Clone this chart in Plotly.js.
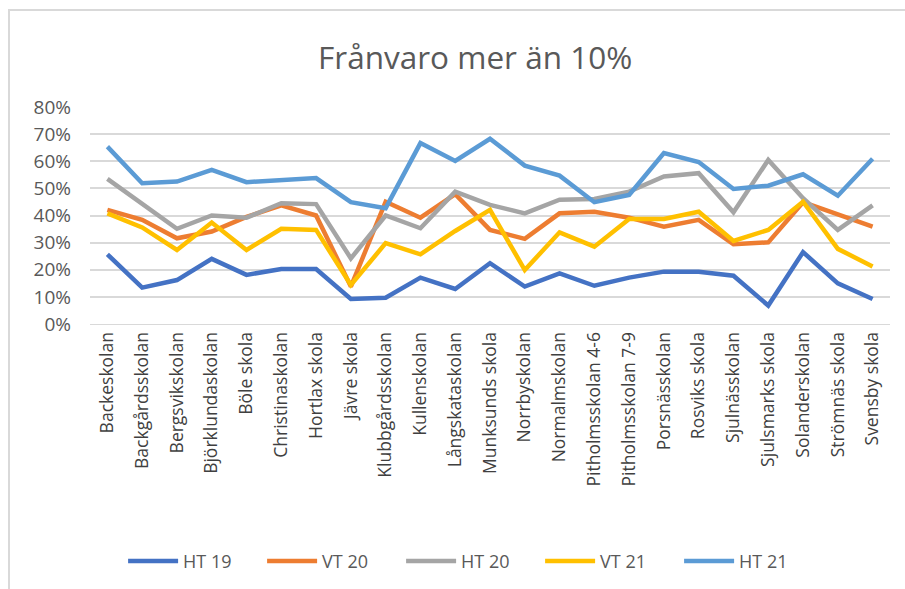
<!DOCTYPE html>
<html>
<head>
<meta charset="utf-8">
<script src="https://cdn.plot.ly/plotly-3.0.1.min.js"></script>
<style>
  html, body { margin: 0; padding: 0; background: #fff; }
  #frame { position: absolute; left: 8px; top: 9px; width: 905px; height: 589px;
           border-left: 2px solid #d9d9d9; border-top: 2px solid #d9d9d9; box-sizing: border-box; pointer-events: none; }
  #chart { position: absolute; left: 0; top: 0; width: 905px; height: 589px; }
</style>
</head>
<body>
<div id="chart"></div>
<div id="frame"></div>
<script>
const schools = ["Backeskolan","Backgårdsskolan","Bergsvikskolan","Björklundaskolan","Böle skola","Christinaskolan","Hortlax skola","Jävre skola","Klubbgårdsskolan","Kullenskolan","Långskataskolan","Munksunds skola","Norrbyskolan","Normalmskolan","Pitholmsskolan 4-6","Pitholmsskolan 7-9","Porsnässkolan","Rosviks skola","Sjulnässkolan","Sjulsmarks skola","Solanderskolan","Strömnäs skola","Svensby skola"];

const ht19 = [0.257,0.134,0.162,0.240,0.181,0.203,0.203,0.092,0.097,0.171,0.129,0.224,0.138,0.187,0.141,0.171,0.193,0.193,0.178,0.068,0.265,0.150,0.092];
const vt20 = [0.421,0.384,0.316,0.341,0.395,0.437,0.400,0.138,0.451,0.392,0.479,0.347,0.314,0.408,0.414,0.392,0.359,0.384,0.294,0.301,0.449,0.405,0.359];
const ht20 = [0.535,0.445,0.351,0.400,0.392,0.445,0.442,0.242,0.400,0.353,0.488,0.439,0.408,0.458,0.461,0.488,0.544,0.556,0.412,0.605,0.464,0.347,0.437];
const vt21 = [0.408,0.356,0.273,0.374,0.273,0.351,0.347,0.144,0.298,0.257,0.343,0.421,0.199,0.338,0.285,0.387,0.387,0.414,0.306,0.347,0.451,0.277,0.212];
const ht21 = [0.654,0.519,0.525,0.568,0.523,0.529,0.538,0.449,0.427,0.667,0.601,0.683,0.584,0.547,0.449,0.476,0.630,0.597,0.498,0.510,0.552,0.473,0.609];

const seriesNames = ["HT 19","VT 20","HT 20","VT 21","HT 21"];
const seriesColors = ["#4472C4","#ED7D31","#A5A5A5","#FFC000","#5B9BD5"];
const seriesData = [ht19, vt20, ht20, vt21, ht21];

const FONT = "Open Sans, Lato, sans-serif";

const traces = seriesData.map((d, i) => ({
  type: "scatter",
  mode: "lines",
  x: schools,
  y: d,
  name: seriesNames[i],
  line: { color: seriesColors[i], width: 4.5 },
  hoverinfo: "x+y+name"
}));

const layout = {
  width: 905,
  height: 589,
  paper_bgcolor: "#ffffff",
  plot_bgcolor: "#ffffff",
  margin: { l: 90, r: 15, t: 107, b: 265 },
  font: { family: FONT, color: "#595959", size: 16 },
  title: {
    text: "Frånvaro mer än 10%",
    font: { family: FONT, size: 31.5, color: "#595959" },
    x: 0.525, xref: "container", xanchor: "center",
    y: 0.902, yref: "container", yanchor: "middle"
  },
  xaxis: {
    type: "category",
    tickangle: -90,
    tickfont: { family: FONT, size: 17.5, color: "#404040" },
    showgrid: false,
    showline: true,
    linecolor: "#d9d9d9",
    linewidth: 1,
    ticks: "",
    zeroline: false,
    range: [-0.5, 22.5],
    automargin: false
  },
  yaxis: {
    range: [0, 0.8],
    dtick: 0.1,
    tickformat: ".0%",
    showgrid: true,
    gridcolor: "#d9d9d9",
    gridwidth: 1.5,
    zeroline: false,
    showline: false,
    ticks: "",
    ticklabelstandoff: 18,
    tickfont: { family: FONT, size: 19, color: "#595959" },
    automargin: false
  },
  showlegend: true,
  legend: {
    orientation: "h",
    x: 0.52, xref: "container", xanchor: "center",
    y: 0.047, yref: "container", yanchor: "middle",
    font: { family: FONT, size: 18, color: "#595959" },
    entrywidth: 74,
    itemwidth: 50
  }
};

Plotly.newPlot("chart", traces, layout, { displayModeBar: false, responsive: false });
</script>
</body>
</html>
